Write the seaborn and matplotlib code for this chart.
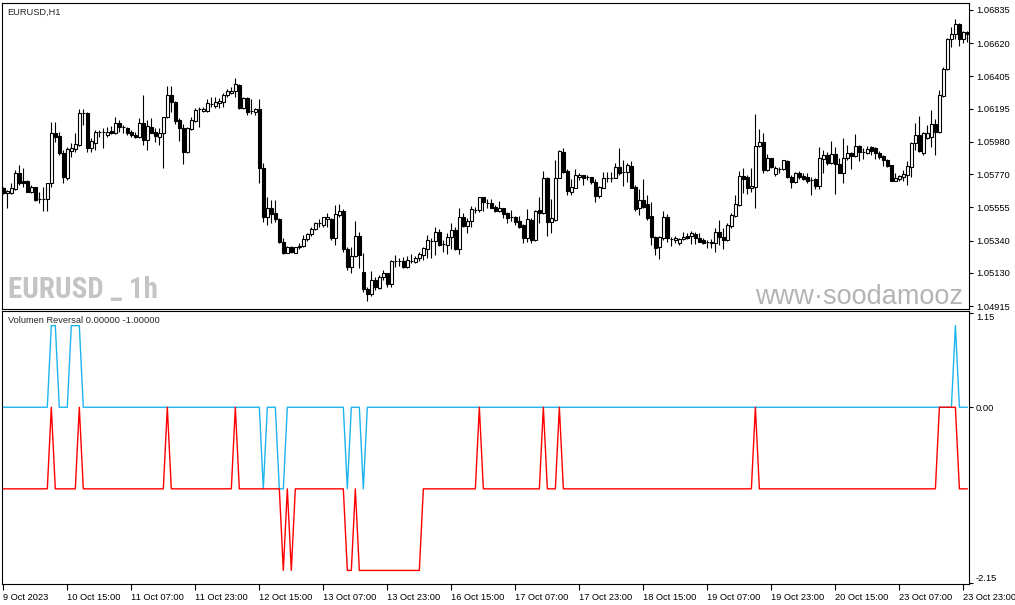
import numpy as np
import pandas as pd
import matplotlib
matplotlib.use("Agg")
import matplotlib.pyplot as plt
import seaborn as sns

# ==============================
# DATA (EURUSD H1)
# ==============================
open_ = np.array([
    1.05679, 1.05646, 1.05646, 1.05672, 1.05776, 1.05726, 1.05726, 1.05657, 1.05685, 1.05607,
    1.05607, 1.05607, 1.05711, 1.06035, 1.06018, 1.05910, 1.05743, 1.05923, 1.05936, 1.05960,
    1.06165, 1.06165, 1.05938, 1.05975, 1.06044, 1.06044, 1.06024, 1.06050, 1.06035, 1.06100,
    1.06074, 1.06068, 1.06044, 1.06024, 1.06014, 1.06100, 1.05992, 1.06074, 1.06046, 1.06014,
    1.06035, 1.06139, 1.06284, 1.06236, 1.06122, 1.06068, 1.05916, 1.06061, 1.06117, 1.06191,
    1.06182, 1.06182, 1.06225, 1.06215, 1.06230, 1.06236, 1.06284, 1.06299, 1.06312, 1.06349,
    1.06197, 1.06262, 1.06178, 1.06176, 1.06191, 1.05808, 1.05490, 1.05549, 1.05516, 1.05477,
    1.05333, 1.05261, 1.05296, 1.05261, 1.05296, 1.05304, 1.05348, 1.05382, 1.05413, 1.05451,
    1.05441, 1.05478, 1.05478, 1.05355, 1.05506, 1.05532, 1.05283, 1.05166, 1.05240, 1.05370,
    1.05138, 1.05026, 1.04994, 1.05084, 1.05035, 1.05102, 1.05127, 1.05058, 1.05208, 1.05208,
    1.05210, 1.05166, 1.05210, 1.05203, 1.05225, 1.05249, 1.05283, 1.05339, 1.05339, 1.05398,
    1.05316, 1.05311, 1.05361, 1.05409, 1.05285, 1.05491, 1.05437, 1.05467, 1.05538, 1.05538,
    1.05620, 1.05585, 1.05583, 1.05559, 1.05533, 1.05548, 1.05520, 1.05492, 1.05490, 1.05466,
    1.05440, 1.05358, 1.05473, 1.05343, 1.05538, 1.05520, 1.05743, 1.05462, 1.05473, 1.05747,
    1.05912, 1.05791, 1.05656, 1.05683, 1.05754, 1.05765, 1.05752, 1.05752, 1.05717, 1.05631,
    1.05683, 1.05747, 1.05747, 1.05747, 1.05814, 1.05784, 1.05782, 1.05823, 1.05687, 1.05548,
    1.05603, 1.05575, 1.05499, 1.05365, 1.05300, 1.05359, 1.05490, 1.05350, 1.05343, 1.05326,
    1.05348, 1.05369, 1.05369, 1.05382, 1.05359, 1.05343, 1.05330, 1.05326, 1.05322, 1.05397,
    1.05365, 1.05343, 1.05436, 1.05501, 1.05570, 1.05758, 1.05754, 1.05678, 1.05689, 1.05955,
    1.05977, 1.05797, 1.05873, 1.05769, 1.05804, 1.05804, 1.05856, 1.05754, 1.05717, 1.05776,
    1.05758, 1.05754, 1.05732, 1.05737, 1.05694, 1.05866, 1.05895, 1.05845, 1.05901, 1.05836,
    1.05780, 1.05873, 1.05905, 1.05888, 1.05953, 1.05916, 1.05905, 1.05949, 1.05942, 1.05905,
    1.05888, 1.05862, 1.05830, 1.05728, 1.05737, 1.05754, 1.05765, 1.05815, 1.05970, 1.06024,
    1.05910, 1.06003, 1.06009, 1.06096, 1.06046, 1.06277, 1.06450, 1.06645, 1.06679, 1.06744,
    1.06645, 1.06695])
high_ = np.array([
    1.05689, 1.05668, 1.05711, 1.05797, 1.05830, 1.05808, 1.05733, 1.05700, 1.05689, 1.05657,
    1.05689, 1.05715, 1.06111, 1.06111, 1.06046, 1.05927, 1.05949, 1.05970, 1.06035, 1.06191,
    1.06191, 1.06176, 1.06003, 1.06057, 1.06057, 1.06068, 1.06078, 1.06083, 1.06143, 1.06122,
    1.06089, 1.06078, 1.06057, 1.06046, 1.06133, 1.06284, 1.06122, 1.06133, 1.06068, 1.06068,
    1.06143, 1.06342, 1.06342, 1.06247, 1.06133, 1.06096, 1.06078, 1.06143, 1.06197, 1.06204,
    1.06208, 1.06256, 1.06273, 1.06273, 1.06262, 1.06295, 1.06321, 1.06338, 1.06392, 1.06355,
    1.06273, 1.06269, 1.06256, 1.06197, 1.06256, 1.05841, 1.05624, 1.05603, 1.05603, 1.05484,
    1.05354, 1.05304, 1.05304, 1.05300, 1.05322, 1.05376, 1.05391, 1.05430, 1.05462, 1.05477,
    1.05495, 1.05517, 1.05484, 1.05571, 1.05577, 1.05543, 1.05300, 1.05300, 1.05469, 1.05398,
    1.05257, 1.05041, 1.05145, 1.05102, 1.05117, 1.05149, 1.05132, 1.05214, 1.05246, 1.05225,
    1.05231, 1.05240, 1.05251, 1.05240, 1.05268, 1.05300, 1.05376, 1.05355, 1.05426, 1.05413,
    1.05344, 1.05387, 1.05452, 1.05426, 1.05549, 1.05517, 1.05484, 1.05564, 1.05556, 1.05625,
    1.05624, 1.05609, 1.05609, 1.05570, 1.05596, 1.05553, 1.05527, 1.05538, 1.05497, 1.05501,
    1.05445, 1.05544, 1.05483, 1.05538, 1.05624, 1.05791, 1.05754, 1.05609, 1.05862, 1.05927,
    1.05942, 1.05801, 1.05739, 1.05804, 1.05775, 1.05765, 1.05765, 1.05754, 1.05739, 1.05695,
    1.05782, 1.05782, 1.05782, 1.05840, 1.05938, 1.05862, 1.05840, 1.05855, 1.05700, 1.05674,
    1.05739, 1.05635, 1.05592, 1.05372, 1.05372, 1.05532, 1.05510, 1.05365, 1.05369, 1.05359,
    1.05397, 1.05387, 1.05402, 1.05397, 1.05387, 1.05359, 1.05343, 1.05350, 1.05423, 1.05473,
    1.05419, 1.05451, 1.05516, 1.05635, 1.05791, 1.05812, 1.05765, 1.05808, 1.06158, 1.06063,
    1.06035, 1.05899, 1.05877, 1.05826, 1.05819, 1.05862, 1.05862, 1.05765, 1.05787, 1.05791,
    1.05776, 1.05776, 1.05754, 1.05743, 1.05949, 1.05927, 1.05916, 1.05988, 1.05949, 1.05873,
    1.06007, 1.05959, 1.05916, 1.06031, 1.05959, 1.05938, 1.05953, 1.05953, 1.05949, 1.05923,
    1.05895, 1.05866, 1.05830, 1.05776, 1.05765, 1.05797, 1.05858, 1.05981, 1.06104, 1.06148,
    1.06046, 1.06089, 1.06186, 1.06126, 1.06316, 1.06463, 1.06651, 1.06723, 1.06775, 1.06749,
    1.06701, 1.06701])
low_ = np.array([
    1.05642, 1.05549, 1.05642, 1.05668, 1.05700, 1.05689, 1.05657, 1.05650, 1.05596, 1.05581,
    1.05534, 1.05534, 1.05689, 1.05981, 1.05895, 1.05711, 1.05733, 1.05884, 1.05916, 1.05953,
    1.06089, 1.05916, 1.05916, 1.05927, 1.06014, 1.05938, 1.06014, 1.06031, 1.06031, 1.06046,
    1.06035, 1.06024, 1.06014, 1.06003, 1.06003, 1.05960, 1.05927, 1.06035, 1.05981, 1.05960,
    1.05808, 1.06133, 1.06176, 1.06094, 1.05988, 1.05836, 1.05905, 1.06057, 1.06111, 1.06078,
    1.06176, 1.06176, 1.06204, 1.06197, 1.06197, 1.06204, 1.06273, 1.06290, 1.06269, 1.06191,
    1.06191, 1.06154, 1.06161, 1.06154, 1.05711, 1.05462, 1.05441, 1.05451, 1.05462, 1.05322,
    1.05250, 1.05257, 1.05261, 1.05257, 1.05283, 1.05300, 1.05339, 1.05372, 1.05408, 1.05430,
    1.05426, 1.05430, 1.05344, 1.05311, 1.05495, 1.05268, 1.05149, 1.05127, 1.05236, 1.05160,
    1.05009, 1.04950, 1.04981, 1.05019, 1.05024, 1.05084, 1.05041, 1.05041, 1.05171, 1.05175,
    1.05160, 1.05160, 1.05192, 1.05192, 1.05210, 1.05214, 1.05225, 1.05225, 1.05246, 1.05305,
    1.05268, 1.05253, 1.05283, 1.05279, 1.05253, 1.05430, 1.05387, 1.05430, 1.05521, 1.05528,
    1.05531, 1.05548, 1.05548, 1.05522, 1.05527, 1.05488, 1.05451, 1.05466, 1.05440, 1.05423,
    1.05321, 1.05332, 1.05321, 1.05336, 1.05451, 1.05509, 1.05371, 1.05386, 1.05466, 1.05743,
    1.05775, 1.05635, 1.05635, 1.05678, 1.05732, 1.05700, 1.05732, 1.05708, 1.05592, 1.05618,
    1.05678, 1.05721, 1.05721, 1.05743, 1.05765, 1.05695, 1.05721, 1.05678, 1.05531, 1.05505,
    1.05549, 1.05473, 1.05311, 1.05246, 1.05220, 1.05343, 1.05333, 1.05307, 1.05322, 1.05311,
    1.05343, 1.05350, 1.05315, 1.05315, 1.05328, 1.05315, 1.05294, 1.05294, 1.05268, 1.05311,
    1.05285, 1.05337, 1.05419, 1.05495, 1.05564, 1.05646, 1.05640, 1.05653, 1.05553, 1.05949,
    1.05776, 1.05791, 1.05808, 1.05761, 1.05776, 1.05797, 1.05743, 1.05678, 1.05711, 1.05739,
    1.05732, 1.05715, 1.05635, 1.05672, 1.05676, 1.05780, 1.05830, 1.05836, 1.05642, 1.05776,
    1.05711, 1.05862, 1.05802, 1.05884, 1.05858, 1.05869, 1.05901, 1.05895, 1.05866, 1.05866,
    1.05823, 1.05815, 1.05728, 1.05728, 1.05728, 1.05728, 1.05700, 1.05754, 1.05927, 1.05916,
    1.05895, 1.05996, 1.05944, 1.05895, 1.06039, 1.06273, 1.06446, 1.06593, 1.06645, 1.06602,
    1.06619, 1.06630])
close_ = np.array([
    1.05650, 1.05661, 1.05683, 1.05776, 1.05715, 1.05715, 1.05657, 1.05689, 1.05603, 1.05607,
    1.05607, 1.05711, 1.06035, 1.06014, 1.05910, 1.05750, 1.05931, 1.05938, 1.05966, 1.06165,
    1.06165, 1.05938, 1.05988, 1.06042, 1.06044, 1.06044, 1.06046, 1.06035, 1.06100, 1.06074,
    1.06074, 1.06040, 1.06024, 1.06009, 1.06100, 1.05992, 1.06083, 1.06040, 1.06018, 1.06040,
    1.06139, 1.06284, 1.06236, 1.06117, 1.06068, 1.05916, 1.06068, 1.06122, 1.06187, 1.06191,
    1.06191, 1.06230, 1.06225, 1.06241, 1.06245, 1.06284, 1.06312, 1.06312, 1.06355, 1.06197,
    1.06262, 1.06176, 1.06178, 1.06191, 1.05808, 1.05490, 1.05549, 1.05512, 1.05477, 1.05333,
    1.05257, 1.05296, 1.05268, 1.05296, 1.05307, 1.05348, 1.05382, 1.05413, 1.05451, 1.05451,
    1.05491, 1.05491, 1.05355, 1.05512, 1.05532, 1.05283, 1.05171, 1.05240, 1.05370, 1.05246,
    1.05024, 1.04994, 1.05084, 1.05037, 1.05102, 1.05127, 1.05058, 1.05210, 1.05208, 1.05208,
    1.05166, 1.05214, 1.05210, 1.05225, 1.05253, 1.05292, 1.05344, 1.05339, 1.05398, 1.05311,
    1.05316, 1.05365, 1.05409, 1.05285, 1.05491, 1.05437, 1.05467, 1.05543, 1.05538, 1.05620,
    1.05592, 1.05585, 1.05553, 1.05531, 1.05548, 1.05514, 1.05488, 1.05492, 1.05462, 1.05429,
    1.05358, 1.05479, 1.05343, 1.05531, 1.05520, 1.05743, 1.05462, 1.05484, 1.05743, 1.05920,
    1.05782, 1.05661, 1.05685, 1.05765, 1.05765, 1.05747, 1.05752, 1.05721, 1.05631, 1.05689,
    1.05743, 1.05747, 1.05747, 1.05819, 1.05775, 1.05784, 1.05829, 1.05683, 1.05544, 1.05602,
    1.05560, 1.05484, 1.05365, 1.05294, 1.05361, 1.05490, 1.05354, 1.05350, 1.05359, 1.05350,
    1.05363, 1.05359, 1.05387, 1.05354, 1.05333, 1.05326, 1.05330, 1.05333, 1.05397, 1.05365,
    1.05343, 1.05441, 1.05505, 1.05577, 1.05758, 1.05739, 1.05678, 1.05694, 1.05955, 1.05977,
    1.05797, 1.05873, 1.05815, 1.05812, 1.05804, 1.05862, 1.05754, 1.05717, 1.05776, 1.05754,
    1.05741, 1.05728, 1.05732, 1.05694, 1.05873, 1.05895, 1.05845, 1.05901, 1.05836, 1.05780,
    1.05873, 1.05905, 1.05888, 1.05953, 1.05916, 1.05916, 1.05931, 1.05923, 1.05905, 1.05879,
    1.05862, 1.05823, 1.05728, 1.05743, 1.05758, 1.05769, 1.05823, 1.05970, 1.06024, 1.05923,
    1.06035, 1.06035, 1.06096, 1.06046, 1.06284, 1.06450, 1.06645, 1.06679, 1.06744, 1.06645,
    1.06695, 1.06677])

# Volumen Reversal indicator, one value per bar
cyan_line = [
    0, 0, 0, 0, 0, 0, 0, 0, 0, 0, 0, 0, 1, 1, 0, 0, 0, 1, 1, 1,
    0, 0, 0, 0, 0, 0, 0, 0, 0, 0, 0, 0, 0, 0, 0, 0, 0, 0, 0, 0,
    0, 0, 0, 0, 0, 0, 0, 0, 0, 0, 0, 0, 0, 0, 0, 0, 0, 0, 0, 0,
    0, 0, 0, 0, 0, -1, 0, 0, 0, -1, -1, 0, 0, 0, 0, 0, 0, 0, 0, 0,
    0, 0, 0, 0, 0, 0, -1, 0, 0, 0, -1, 0, 0, 0, 0, 0, 0, 0, 0, 0,
    0, 0, 0, 0, 0, 0, 0, 0, 0, 0, 0, 0, 0, 0, 0, 0, 0, 0, 0, 0,
    0, 0, 0, 0, 0, 0, 0, 0, 0, 0, 0, 0, 0, 0, 0, 0, 0, 0, 0, 0,
    0, 0, 0, 0, 0, 0, 0, 0, 0, 0, 0, 0, 0, 0, 0, 0, 0, 0, 0, 0,
    0, 0, 0, 0, 0, 0, 0, 0, 0, 0, 0, 0, 0, 0, 0, 0, 0, 0, 0, 0,
    0, 0, 0, 0, 0, 0, 0, 0, 0, 0, 0, 0, 0, 0, 0, 0, 0, 0, 0, 0,
    0, 0, 0, 0, 0, 0, 0, 0, 0, 0, 0, 0, 0, 0, 0, 0, 0, 0, 0, 0,
    0, 0, 0, 0, 0, 0, 0, 0, 0, 0, 0, 0, 0, 0, 0, 0, 0, 0, 1, 0,
    0, 0]
red_line = [
    -1, -1, -1, -1, -1, -1, -1, -1, -1, -1, -1, -1, 0, -1, -1, -1, -1, -1, -1, 0,
    -1, -1, -1, -1, -1, -1, -1, -1, -1, -1, -1, -1, -1, -1, -1, -1, -1, -1, -1, -1,
    -1, 0, -1, -1, -1, -1, -1, -1, -1, -1, -1, -1, -1, -1, -1, -1, -1, -1, 0, -1,
    -1, -1, -1, -1, -1, -1, -1, -1, -1, -1, -2, -1, -2, -1, -1, -1, -1, -1, -1, -1,
    -1, -1, -1, -1, -1, -1, -2, -2, -1, -2, -2, -2, -2, -2, -2, -2, -2, -2, -2, -2,
    -2, -2, -2, -2, -2, -1, -1, -1, -1, -1, -1, -1, -1, -1, -1, -1, -1, -1, -1, 0,
    -1, -1, -1, -1, -1, -1, -1, -1, -1, -1, -1, -1, -1, -1, -1, 0, -1, -1, -1, 0,
    -1, -1, -1, -1, -1, -1, -1, -1, -1, -1, -1, -1, -1, -1, -1, -1, -1, -1, -1, -1,
    -1, -1, -1, -1, -1, -1, -1, -1, -1, -1, -1, -1, -1, -1, -1, -1, -1, -1, -1, -1,
    -1, -1, -1, -1, -1, -1, -1, -1, 0, -1, -1, -1, -1, -1, -1, -1, -1, -1, -1, -1,
    -1, -1, -1, -1, -1, -1, -1, -1, -1, -1, -1, -1, -1, -1, -1, -1, -1, -1, -1, -1,
    -1, -1, -1, -1, -1, -1, -1, -1, -1, -1, -1, -1, -1, -1, 0, 0, 0, 0, 0, -1,
    -1, -1]

price_ticks = [1.06835, 1.06620, 1.06405, 1.06195, 1.05980, 1.05770, 1.05555, 1.05340, 1.05130, 1.04915]
ind_ticks = [1.15, 0.00, -2.15]
time_bars = [0, 16, 32, 48, 64, 80, 96, 112, 128, 144, 160, 176, 192, 208, 224, 240]
time_labels = ["9 Oct 2023", "10 Oct 15:00", "11 Oct 07:00", "11 Oct 23:00", "12 Oct 15:00",
               "13 Oct 07:00", "13 Oct 23:00", "16 Oct 15:00", "17 Oct 07:00", "17 Oct 23:00",
               "18 Oct 15:00", "19 Oct 07:00", "19 Oct 23:00", "20 Oct 15:00", "23 Oct 07:00",
               "23 Oct 23:00"]

# ==============================
# STYLE
# ==============================
sns.set_style("white")
plt.rcParams["font.family"] = ["Liberation Sans", "DejaVu Sans"]

fig = plt.figure(figsize=(10.15, 6.05), dpi=100)
ax1 = fig.add_axes([0.00246, 0.4893, 0.95222, 0.50624])
ax2 = fig.add_axes([0.00246, 0.0342, 0.95222, 0.4518])

bars = np.arange(len(open_))
xmin, xmax = -0.2, 241.4

# ==============================
# 1. CANDLES
# ==============================
up = close_ >= open_
ax1.vlines(bars, low_, high_, color="black", lw=0.8, zorder=1)
ax1.bar(bars, np.abs(close_ - open_), bottom=np.minimum(open_, close_), width=0.7,
        color=np.where(up, "white", "black"), edgecolor="black", linewidth=0.8, zorder=2)

ax1.set_xlim(xmin, xmax)
ax1.set_ylim(1.04896, 1.06882)
ax1.set_xticks([])
ax1.yaxis.tick_right()
ax1.set_yticks(price_ticks)
ax1.set_yticklabels([f"{p:.5f}" for p in price_ticks])
ax1.tick_params(axis="y", right=True, left=False, direction="out", length=3, width=0.8,
                labelsize=6.7, pad=2, colors="black")

ax1.text(0.005, 0.968, "EURUSD,H1", transform=ax1.transAxes, fontsize=6.7, va="center", ha="left")
ax1.text(0.006, 0.062, "EURUSD _ 1h", transform=ax1.transAxes, fontsize=21, fontweight="bold",
         color="#C4C4C4", va="center", ha="left", family=["Roboto Condensed", "Liberation Sans"])
ax1.text(0.779, 0.04, "www·soodamooz", transform=ax1.transAxes, fontsize=19.5,
         color="#B4B4B4", va="center", ha="left")

# ==============================
# 2. VOLUMEN REVERSAL
# ==============================
ind = pd.DataFrame({"bar": bars, "cyan": cyan_line, "red": red_line})
sns.lineplot(data=ind, x="bar", y="cyan", color="#1EB4F0", lw=1.0, ax=ax2)
sns.lineplot(data=ind, x="bar", y="red", color="#FF0000", lw=1.0, ax=ax2)

ax2.set_xlim(xmin, xmax)
ax2.set_ylim(-2.17, 1.18)
ax2.set_xlabel("")
ax2.set_ylabel("")
ax2.yaxis.tick_right()
ax2.set_yticks(ind_ticks)
ax2.set_yticklabels(["1.15", "0.00", "-2.15"])
ylabs = ax2.get_yticklabels()
ylabs[0].set_va("top")
ylabs[2].set_va("bottom")
ax2.tick_params(axis="y", right=True, left=False, direction="out", length=3, width=0.8,
                labelsize=6.7, pad=2, colors="black")
ax2.set_xticks(time_bars)
ax2.set_xticklabels(time_labels, ha="left")
ax2.tick_params(axis="x", bottom=True, direction="out", length=4, width=0.8,
                labelsize=6.7, pad=2, colors="black")

ax2.text(0.006, 0.965, "Volumen Reversal 0.00000 -1.00000", transform=ax2.transAxes,
         fontsize=6.7, va="center", ha="left")

for ax in (ax1, ax2):
    for s in ax.spines.values():
        s.set_color("black")
        s.set_linewidth(0.8)

# ==============================
# SAVE
# ==============================
fig.savefig("out.png", dpi=100, facecolor="white")
